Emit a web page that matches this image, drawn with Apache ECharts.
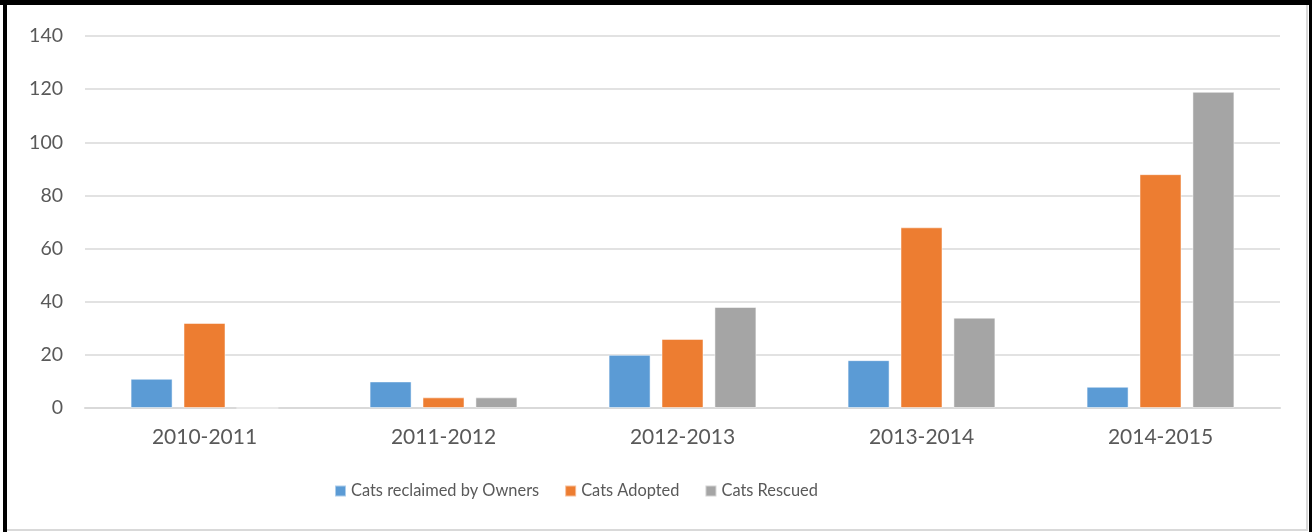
<!DOCTYPE html>
<html>
<head>
<meta charset="utf-8">
<script src="https://cdn.jsdelivr.net/npm/echarts@6/dist/echarts.min.js"></script>
<style>
html,body{margin:0;padding:0;background:#fff;}
#wrap{position:relative;width:1312px;height:532px;overflow:hidden;}
#chart{position:absolute;left:0;top:0;width:1312px;height:532px;}
.b{position:absolute;}
</style>
</head>
<body>
<div id="wrap">
<div id="chart"></div>
<div class="b" style="left:0;top:0;width:1312px;height:5px;background:#000"></div>
<div class="b" style="left:3px;top:0;width:4px;height:532px;background:#000"></div>
<div class="b" style="left:1309px;top:0;width:3px;height:532px;background:#000"></div>
<div class="b" style="left:1306px;top:5px;width:2px;height:526px;background:#d9d9d9"></div>
<div class="b" style="left:7px;top:529px;width:1301px;height:2px;background:#d9d9d9"></div>
</div>
<script>
var categories = ['2010-2011','2011-2012','2012-2013','2013-2014','2014-2015'];
var reclaimed = [11, 10, 20, 18, 8];
var adopted = [32, 4, 26, 68, 88];
var rescued = [0, 4, 38, 34, 119];
var seriesNames = ['Cats reclaimed by Owners','Cats Adopted','Cats Rescued'];
var colors = ['#5b9bd5','#ed7d31','#a5a5a5'];

var font = 'Lato, "Open Sans", sans-serif';
var chart = echarts.init(document.getElementById('chart'), null, {renderer:'canvas'});
function mk(name, data, color){
  return {name:name, type:'bar', data:data, barWidth:42, barGap:'26%',
    itemStyle:{color:color, borderColor:'rgba(255,255,255,0.5)', borderWidth:1},
    emphasis:{disabled:true}, animation:false};
}
chart.setOption({
  animation:false,
  color: colors,
  grid:{left:85, right:32, top:36, bottom:124, containLabel:false},
  legend:{
    left:329, top:478, itemWidth:11, itemHeight:11, itemGap:25,
    icon:'rect',
    textStyle:{color:'#595959', fontSize:16.4, fontFamily:font},
    data: seriesNames
  },
  xAxis:{
    type:'category', data:categories,
    axisLine:{lineStyle:{color:'#d9d9d9', width:2}},
    axisTick:{show:false},
    axisLabel:{color:'#595959', fontSize:21, fontFamily:font, margin:19}
  },
  yAxis:{
    type:'value', min:0, max:140, interval:20,
    axisLine:{show:false}, axisTick:{show:false},
    splitLine:{lineStyle:{color:'#d9d9d9', width:1.5}},
    axisLabel:{color:'#595959', fontSize:19.5, fontFamily:font, margin:22}
  },
  series:[
    mk(seriesNames[0], reclaimed, colors[0]),
    mk(seriesNames[1], adopted, colors[1]),
    mk(seriesNames[2], rescued, colors[2])
  ]
});
</script>
</body>
</html>
